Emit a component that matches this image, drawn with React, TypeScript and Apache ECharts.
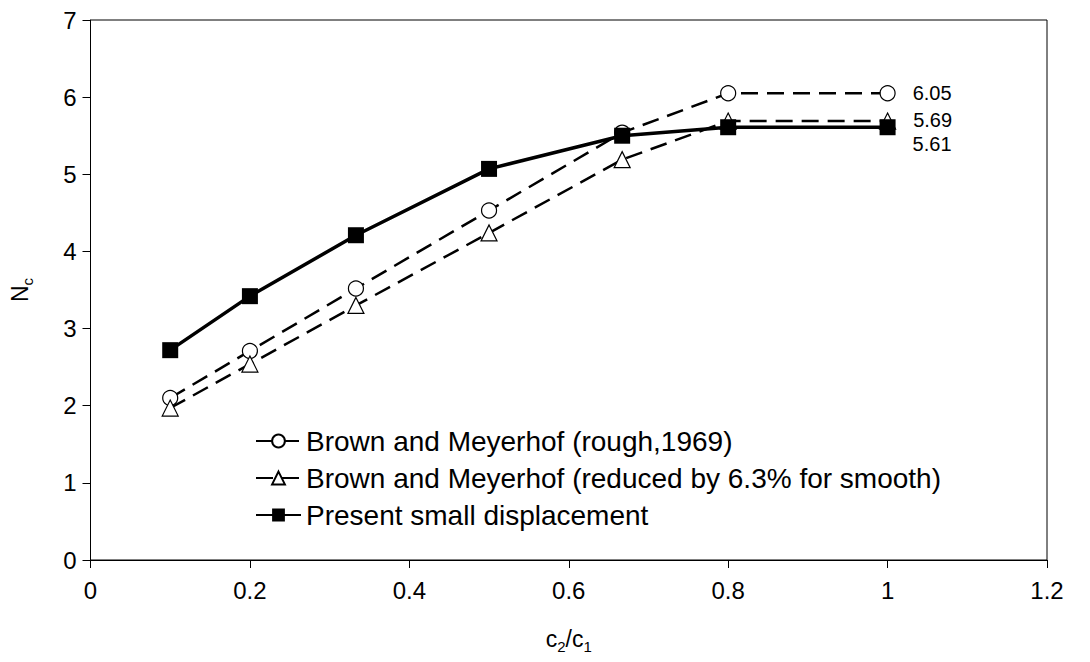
import React, { useEffect, useRef } from "react";
import * as echarts from "echarts";

const xValues = [0.1, 0.2, 0.333, 0.5, 0.667, 0.8, 1.0];
const roughValues = [2.1, 2.71, 3.52, 4.53, 5.54, 6.05, 6.05];
const smoothValues = [1.97, 2.54, 3.3, 4.24, 5.19, 5.69, 5.69];
const presentValues = [2.72, 3.42, 4.21, 5.07, 5.5, 5.61, 5.61];
const seriesNames = [
  "Brown and Meyerhof (rough,1969)",
  "Brown and Meyerhof (reduced by 6.3% for smooth)",
  "Present small displacement",
];
const endLabels = ["6.05", "5.69", "5.61"];

const FONT = "'Liberation Sans', Arial, sans-serif";

function buildData(values: number[], label: string, offsetY: number, dist: number) {
  return values.map((v, i) => {
    if (i === values.length - 1) {
      return {
        value: [xValues[i], v],
        label: {
          show: true,
          position: "right",
          distance: dist,
          offset: [0, offsetY],
          formatter: label,
          fontSize: 20,
          fontFamily: FONT,
          color: "#000",
        },
      };
    }
    return { value: [xValues[i], v] };
  });
}

export default function App() {
  const ref = useRef<HTMLDivElement>(null);
  useEffect(() => {
    if (!ref.current) return;
    const chart = echarts.init(ref.current, undefined, { renderer: "svg" });
    chart.setOption({
      animation: false,
      backgroundColor: "#fff",
      textStyle: { fontFamily: FONT, color: "#000" },
      grid: {
        left: 87,
        right: 43,
        top: 20,
        bottom: 102,
        show: true,
        borderColor: "#000",
        borderWidth: 1,
      },
      legend: {
        orient: "vertical",
        left: 250,
        top: 422,
        itemWidth: 45,
        itemHeight: 16,
        itemGap: 9,
        textStyle: { fontSize: 28, fontFamily: FONT, color: "#000" },
        data: seriesNames,
      },
      xAxis: {
        type: "value",
        min: 0,
        max: 1.2,
        interval: 0.2,
        name: "{a|c}{s|2}{a|/c}{s|1}",
        nameLocation: "middle",
        nameGap: 64,
        nameTextStyle: {
          rich: {
            a: { fontSize: 23, fontFamily: FONT, color: "#000", lineHeight: 30, verticalAlign: "middle" },
            s: { fontSize: 15, fontFamily: FONT, color: "#000", lineHeight: 30, verticalAlign: "bottom" },
          },
        },
        splitLine: { show: false },
        axisLine: { lineStyle: { color: "#000", width: 1 } },
        axisTick: { show: true, length: 8, inside: false, lineStyle: { color: "#000" } },
        axisLabel: { fontSize: 24, color: "#000", margin: 18, fontFamily: FONT },
      },
      yAxis: {
        type: "value",
        min: 0,
        max: 7,
        interval: 1,
        name: "{a|N}{s|c}",
        nameLocation: "middle",
        nameGap: 56,
        nameRotate: 90,
        nameTextStyle: {
          rich: {
            a: { fontSize: 23, fontFamily: FONT, color: "#000", lineHeight: 30, verticalAlign: "middle" },
            s: { fontSize: 15, fontFamily: FONT, color: "#000", lineHeight: 30, verticalAlign: "bottom" },
          },
        },
        splitLine: { show: false },
        axisLine: { show: true, lineStyle: { color: "#000", width: 1 } },
        axisTick: { show: true, length: 8, inside: false, lineStyle: { color: "#000" } },
        axisLabel: { fontSize: 24, color: "#000", margin: 14, fontFamily: FONT },
      },
      series: [
        {
          name: seriesNames[0],
          type: "line",
          data: buildData(roughValues, endLabels[0], 0, 17),
          symbol: "circle",
          symbolSize: 15,
          showAllSymbol: true,
          lineStyle: { color: "#000", width: 2.5, type: [17, 9] },
          itemStyle: { color: "#fff", borderColor: "#000", borderWidth: 1.2 },
          emphasis: { disabled: true },
          z: 2,
        },
        {
          name: seriesNames[1],
          type: "line",
          data: buildData(smoothValues, endLabels[1], -1, 17),
          symbol: "triangle",
          symbolSize: 16,
          showAllSymbol: true,
          lineStyle: { color: "#000", width: 2.5, type: [17, 9] },
          itemStyle: { color: "#fff", borderColor: "#000", borderWidth: 1.2 },
          emphasis: { disabled: true },
          z: 3,
        },
        {
          name: seriesNames[2],
          type: "line",
          data: buildData(presentValues, endLabels[2], 17, 17),
          symbol: "rect",
          symbolSize: 16,
          showAllSymbol: true,
          lineStyle: { color: "#000", width: 3.5, type: "solid" },
          itemStyle: { color: "#000", borderColor: "#000", borderWidth: 0 },
          emphasis: { disabled: true },
          z: 4,
        },
      ],
    });
    return () => chart.dispose();
  }, []);
  return (
    <div
      ref={ref}
      style={{ position: "absolute", left: 0, top: 0, width: 1090, height: 662 }}
    />
  );
}
